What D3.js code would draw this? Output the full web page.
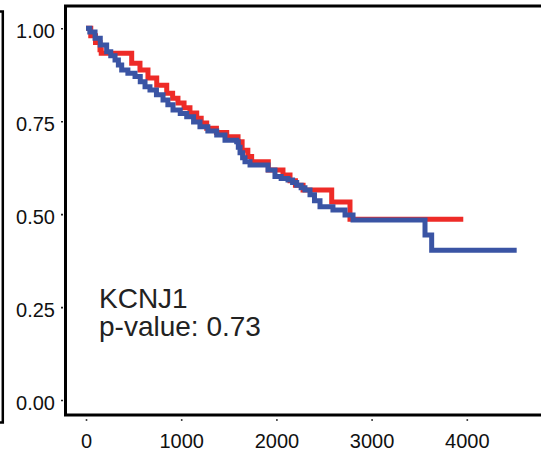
<!DOCTYPE html>
<html>
<head>
<meta charset="utf-8">
<script src="https://cdn.jsdelivr.net/npm/d3@7"></script>
<style>
  html, body { margin: 0; padding: 0; background: #fff; }
  svg { display: block; font-family: "Liberation Sans", Arial, sans-serif; }
</style>
</head>
<body>
<svg id="chart" width="541" height="458"></svg>
<script>
// Kaplan-Meier step data: [days, survival probability after the step]
const redSteps = [
  [0, 1.0], [50, 0.98], [100, 0.962], [147, 0.942], [160, 0.933], [480, 0.906],
  [567, 0.888], [651, 0.866], [743, 0.847], [848, 0.825], [910, 0.812], [966, 0.799],
  [1030, 0.786], [1092, 0.772], [1163, 0.758], [1210, 0.745], [1268, 0.731],
  [1370, 0.720], [1478, 0.708], [1597, 0.695], [1640, 0.672], [1700, 0.655],
  [1740, 0.641], [1915, 0.619], [2069, 0.605], [2143, 0.590], [2200, 0.578],
  [2280, 0.565], [2581, 0.533], [2773, 0.486]
];
const redLastTime = 3963;

const blueSteps = [
  [0, 1.0], [40, 0.99], [95, 0.973], [150, 0.955], [217, 0.937], [260, 0.926],
  [305, 0.915], [340, 0.901], [375, 0.888], [440, 0.879], [515, 0.870], [570, 0.856],
  [620, 0.843], [672, 0.834], [740, 0.821], [809, 0.807], [860, 0.794], [914, 0.780],
  [990, 0.771], [1058, 0.762], [1130, 0.748], [1197, 0.735], [1280, 0.724],
  [1373, 0.713], [1460, 0.699], [1583, 0.695], [1600, 0.680], [1618, 0.665],
  [1645, 0.652], [1670, 0.641], [1723, 0.632], [1912, 0.619], [1985, 0.601],
  [2050, 0.596], [2122, 0.592], [2170, 0.585], [2213, 0.578], [2260, 0.571],
  [2300, 0.565], [2353, 0.552], [2400, 0.536], [2458, 0.520], [2594, 0.511],
  [2721, 0.498], [2805, 0.484], [3561, 0.444], [3631, 0.403]
];
const blueLastTime = 4524;

const xTicks = [0, 1000, 2000, 3000, 4000];
const yTicks = [0, 0.25, 0.5, 0.75, 1.0];
const geneLabel = "KCNJ1";
const pValueLabel = "p-value: 0.73";

const svg = d3.select("#chart");

const x = d3.scaleLinear().domain([0, 4000]).range([86, 466.8]);
const y = d3.scaleLinear().domain([0, 1]).range([400, 28.3]);

// edge of the neighbouring panel on the left
svg.append("path")
  .attr("d", "M0,11.5 H2.8 V422.5 H0")
  .attr("fill", "none").attr("stroke", "#000").attr("stroke-width", 2.5);

// panel frame (extends past the right edge)
svg.append("rect")
  .attr("x", 65.5).attr("y", 6).attr("width", 500).attr("height", 409)
  .attr("fill", "none").attr("stroke", "#000").attr("stroke-width", 3);

// curves
const line = d3.line()
  .x(d => x(d[0])).y(d => y(d[1]))
  .curve(d3.curveStepAfter);

function withEnd(steps, lastTime) {
  return steps.concat([[lastTime, steps[steps.length - 1][1]]]);
}

svg.append("path")
  .datum(withEnd(redSteps, redLastTime))
  .attr("d", line)
  .attr("fill", "none").attr("stroke", "#ee2b27").attr("stroke-width", 5);

svg.append("path")
  .datum(withEnd(blueSteps, blueLastTime))
  .attr("d", line)
  .attr("fill", "none").attr("stroke", "#3a54a4").attr("stroke-width", 5);

// axes
const yAxis = svg.append("g")
  .attr("transform", "translate(63,0)")
  .call(d3.axisLeft(y).tickValues(yTicks).tickFormat(d3.format(".2f"))
    .tickSizeInner(2).tickSizeOuter(0).tickPadding(6));
yAxis.select(".domain").remove();
yAxis.selectAll("line").attr("stroke", "#222").attr("stroke-width", 1.6);
yAxis.selectAll("text")
  .attr("font-size", 20).attr("fill", "#111")
  .attr("font-family", "'Liberation Sans', Arial, sans-serif")
  .attr("dy", "0.45em");

const xAxis = svg.append("g")
  .attr("transform", "translate(0,419)")
  .call(d3.axisBottom(x).tickValues(xTicks).tickFormat(d3.format("d"))
    .tickSizeInner(2).tickSizeOuter(0).tickPadding(13));
xAxis.select(".domain").remove();
xAxis.selectAll("line").attr("stroke", "#444").attr("stroke-width", 1.6);
xAxis.selectAll("text")
  .attr("font-size", 20).attr("fill", "#111")
  .attr("font-family", "'Liberation Sans', Arial, sans-serif");

// annotation
svg.append("text")
  .attr("x", 99).attr("y", 308)
  .attr("font-size", 28).attr("fill", "#222")
  .text(geneLabel);
svg.append("text")
  .attr("x", 99).attr("y", 336)
  .attr("font-size", 28).attr("fill", "#222")
  .text(pValueLabel);
</script>
</body>
</html>
